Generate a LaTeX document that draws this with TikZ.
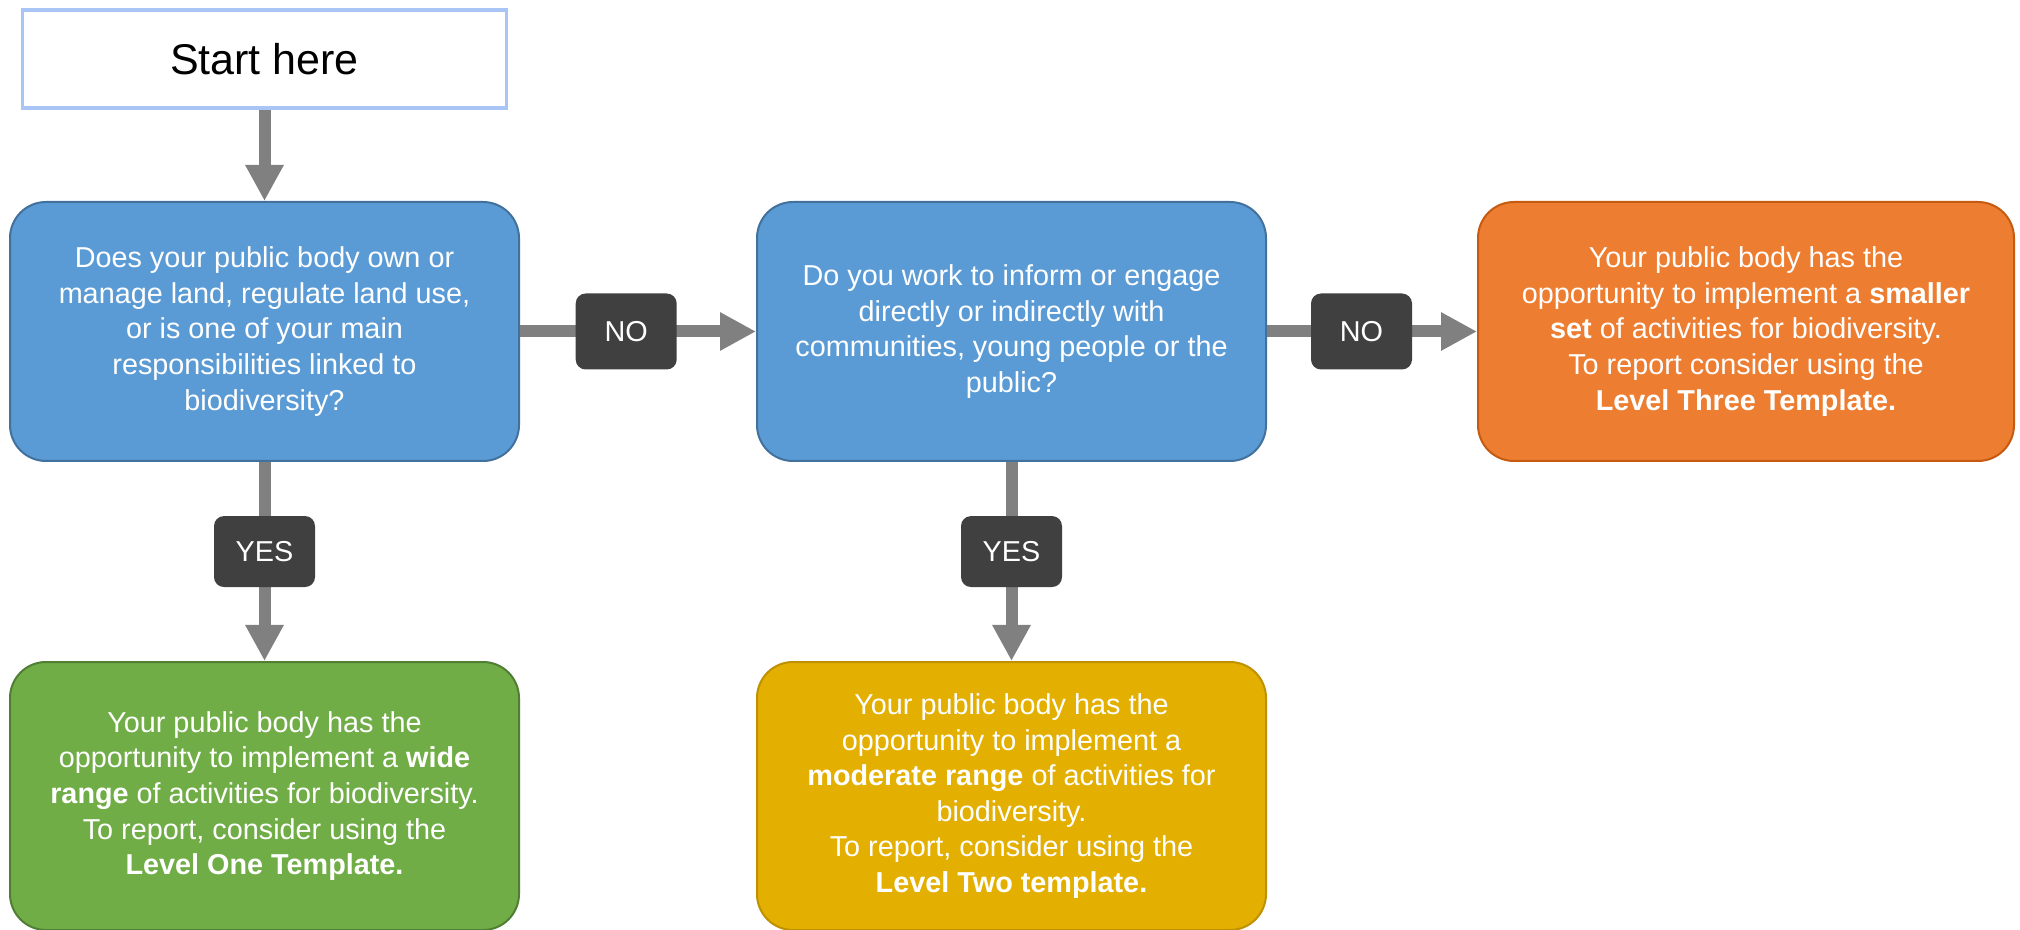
\documentclass[tikz,border=0pt]{standalone}
\usepackage{fontspec}
\setmainfont{Liberation Sans}
\usepackage{tikz}
\usetikzlibrary{arrows.meta,positioning}

\definecolor{qblue}{HTML}{5B9BD5}
\definecolor{qblueline}{HTML}{41719C}
\definecolor{rgreen}{HTML}{70AD47}
\definecolor{rgreenline}{HTML}{507E32}
\definecolor{rgold}{HTML}{E3AF00}
\definecolor{rgoldline}{HTML}{BF9000}
\definecolor{rorange}{HTML}{ED7D31}
\definecolor{rorangeline}{HTML}{C55A11}
\definecolor{tagfill}{HTML}{404040}
\definecolor{arrowgray}{HTML}{808080}
\definecolor{glow}{HTML}{A9C5F5}

\begin{document}
\begin{tikzpicture}[font=\fontsize{14.4pt}{17.8pt}\selectfont,
  startbox/.style={draw=glow, line width=1.8pt, fill=white, minimum width=242pt, minimum height=49pt, font=\fontsize{21.5pt}{25pt}\selectfont},
  question/.style={draw=qblueline, line width=1pt, fill=qblue, text=white, rounded corners=18pt, align=center, minimum width=254.5pt, minimum height=129.5pt},
  result/.style={line width=1pt, text=white, rounded corners=18pt, align=center, minimum width=254.5pt, minimum height=134pt},
  tag/.style={fill=tagfill, text=white, rounded corners=5pt, minimum width=50.5pt, minimum height=38pt, pos=.45},
  line/.style={draw=arrowgray, line width=6pt, -{Triangle[length=18pt, width=18pt]}}]
\useasboundingbox (0,0) rectangle (1010pt,-465pt);
\node[question] (own) at (132.25pt,-165.75pt) {Does your public body own or\\manage land, regulate land use,\\or is one of your main\\responsibilities linked to\\biodiversity?};
\node[startbox, above=45.5pt of own] (start) {Start here};
\node[question, right=118pt of own] (engage) {Do you work to inform or engage\\directly or indirectly with\\communities, young people or the\\public?};
\node[result, draw=rorangeline, fill=rorange, minimum width=268pt, minimum height=129.5pt, right=105pt of engage] (smaller) {Your public body has the\\opportunity to implement a \textbf{smaller}\\\textbf{set} of activities for biodiversity.\\To report consider using the\\\textbf{Level Three Template.}};
\node[result, draw=rgreenline, fill=rgreen, below=99.5pt of own] (wide) {Your public body has the\\opportunity to implement a \textbf{wide}\\\textbf{range} of activities for biodiversity.\\To report, consider using the\\\textbf{Level One Template.}};
\node[result, draw=rgoldline, fill=rgold, below=99.5pt of engage] (moderate) {Your public body has the\\opportunity to implement a\\\textbf{moderate range} of activities for\\biodiversity.\\To report, consider using the\\\textbf{Level Two template.}};
\draw[line] (start) -- (own);
\draw[line] (own) -- node[tag] (no1) {NO} (engage);
\draw[line] (engage) -- node[tag] (no2) {NO} (smaller);
\draw[line] (own) -- node[tag, minimum height=35.5pt] (yes1) {YES} (wide);
\draw[line] (engage) -- node[tag, minimum height=35.5pt] (yes2) {YES} (moderate);
\end{tikzpicture}
\end{document}
